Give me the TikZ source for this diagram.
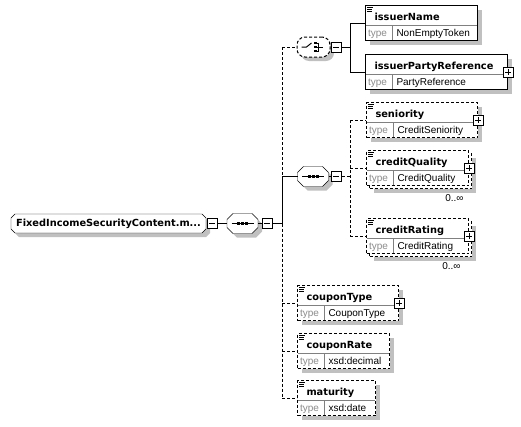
\documentclass[tikz,border=0pt]{standalone}
\usepackage{fontspec}
\setmainfont{Liberation Sans}
\newfontfamily\headfont{DejaVu Sans}
\usetikzlibrary{shadows,calc,backgrounds}

\definecolor{shadegray}{RGB}{192,192,192}
\definecolor{typegray}{RGB}{140,140,140}
\definecolor{rulegray}{RGB}{128,128,128}

\begin{document}
\begin{tikzpicture}[
            x = 1pt, y = -1pt, % one unit per pixel, rows counted downwards
            line width = 1pt, % thin lines
            opt/.style = {dash pattern=on 3pt off 2pt}, % optional particle
            plain/.style = {},
            shadowed/.style = {drop shadow={shadow xshift=4pt, shadow yshift=-4pt, fill=shadegray, opacity=1}},
            shadefill/.style = {fill=shadegray},
            octfill/.style = {draw, fill=white},
            elembox/.style = {draw, fill=white, minimum height=35pt, inner sep=0pt},
            titletext/.style = {anchor=base west, inner sep=0pt, font=\headfont\bfseries\fontsize{9.8}{12}\selectfont},
            typetext/.style = {anchor=base west, inner sep=0pt, font=\fontsize{10}{12}\selectfont},
            rootbox/.style = {minimum width=195pt, minimum height=19pt, inner sep=0pt, outer sep=0pt,
                              font=\headfont\bfseries\fontsize{9.8}{12}\selectfont},
            seqbox/.style = {minimum width=31pt, minimum height=20pt, inner sep=0pt, outer sep=0pt},
            choicebox/.style = {rectangle, rounded corners=8pt, draw, opt, fill=white, shadowed,
                                minimum width=33pt, minimum height=20pt, inner sep=0pt},
            minusbox/.style = {draw, fill=white, minimum size=10pt, inner sep=0pt,
                               path picture={\draw ([xshift=2pt]path picture bounding box.west) -- ([xshift=-2pt]path picture bounding box.east);}},
            plusbox/.style = {draw, fill=white, minimum size=10pt, inner sep=0pt,
                              path picture={\draw ([xshift=2pt]path picture bounding box.west) -- ([xshift=-2pt]path picture bounding box.east)
                                                  ([yshift=-2pt]path picture bounding box.north) -- ([yshift=2pt]path picture bounding box.south);}},
            many/.style = {anchor=north east, inner sep=0pt, font=\fontsize{10}{12}\selectfont}
        ]
\useasboundingbox (0,0) rectangle (521,426);

% compositors
\node[rootbox] (root) at (108.5,223.5) {FixedIncomeSecurityContent.m...};
\node[minusbox] (rootmin) at (212,223.5) {};
\node[seqbox] (mainseq) at (242.5,223.5) {};
\node[minusbox] (mainseqmin) at (267,223.5) {};
\node[choicebox] (issuer) at (313.5,47) {};
\node[minusbox] (issuermin) at (336,47) {};
\node[seqbox] (creditseq) at (313,176.5) {};
\node[minusbox] (creditseqmin) at (336,176.5) {};

% octagon outlines behind the compositor nodes
\begin{scope}[on background layer]
\foreach \nm/\c in {root/4,mainseq/6,creditseq/6}
  \foreach \o/\sty in {4/shadefill,0/octfill}
    \path[\sty] ($(\nm.north west)+(\c+\o,\o)$) -- ($(\nm.north east)+(-\c+\o,\o)$)
          -- ($(\nm.north east)+(\o,\c+\o)$) -- ($(\nm.south east)+(\o,-\c+\o)$)
          -- ($(\nm.south east)+(-\c+\o,\o)$) -- ($(\nm.south west)+(\c+\o,\o)$)
          -- ($(\nm.south west)+(\o,-\c+\o)$) -- ($(\nm.north west)+(\o,\c+\o)$) -- cycle;
\end{scope}

\coordinate (mainbus) at (282,223.5);
\coordinate (issuerbus) at (350,47);
\coordinate (creditbus) at (350,176.5);

% stacked boxes of the repeated elements
\node[elembox,opt,shadowed,minimum width=102pt,anchor=north west] (creditQualityback) at (369,153) {};
\node[elembox,opt,shadowed,minimum width=102pt,anchor=north west] (creditRatingback) at (369,221) {};

% elements
\foreach \nm/\lx/\ty/\bw/\typ/\ln/\sh in {
        issuerName/365/5/112/NonEmptyToken/solid/shadowed,
        issuerPartyReference/365/54/142/PartyReference/solid/shadowed,
        seniority/366/102/111/CreditSeniority/opt/shadowed,
        creditQuality/366/150/102/CreditQuality/opt/plain,
        creditRating/366/218/102/CreditRating/opt/plain,
        couponType/297/285/101/CouponType/opt/shadowed,
        couponRate/297/333/92/xsd:decimal/opt/shadowed,
        maturity/297/380/78/xsd:date/opt/shadowed}
{
  \node[elembox,\ln,\sh,minimum width=\bw pt,anchor=north west] (\nm) at (\lx,\ty) {};
  \draw[rulegray] (\lx+1,\ty+20) -- (\lx+\bw-0.5,\ty+20) (\lx+27,\ty+20) -- (\lx+27,\ty+34.5);
  \node[titletext] at (\lx+9,\ty+15) {\nm};
  \node[typetext,typegray] at (\lx+2.5,\ty+31) {type};
  \node[typetext] at (\lx+31,\ty+31) {\typ};
}

\foreach \nm in {issuerName,seniority,creditQuality,creditRating,couponType,couponRate,maturity}
  \draw[line width=0.7pt] ($(\nm.north west)+(2,2.5)$) -- +(6,0) ++(0,2) -- +(5,0) ++(0,2) -- +(5,0);

\foreach \nm in {issuerPartyReference,seniority,creditQuality,creditRating,couponType}
  \node[plusbox] at (\nm.east) {};

\node[many] at ($(creditQualityback.south east)+(-8,5)$) {0..∞};
\node[many] at ($(creditRatingback.south east)+(-11,5)$) {0..∞};

% compositor icons
\foreach \nm in {mainseq,creditseq} {
  \draw ($(\nm)+(-11,0)$) -- ($(\nm)+(11,0)$);
  \foreach \dx in {-4,0,4}
    \fill ($(\nm)+(\dx-1.5,-1.5)$) rectangle +(3,3);
}
\draw ($(issuer)+(-12,0)$) -- ($(issuer)+(-7,0)$) -- ($(issuer)+(-2,-4)$);
\foreach \dy in {-4,0,4} {
  \fill ($(issuer)+(0.5,\dy-1.25)$) rectangle +(2.5,2.5);
  \draw ($(issuer)+(3,\dy)$) -- ($(issuer)+(5,\dy)$);
}
\draw ($(issuer)+(5,-4.5)$) -- ($(issuer)+(5,4.5)$) ($(issuer)+(5,0)$) -- ($(issuer)+(9,0)$);

% connectors
\path (rootmin) edge (mainseq)
      (mainseq) edge (mainseqmin)
      (mainseqmin) edge (mainbus);
\draw[opt] (issuer.west -| mainbus) -- (creditseq.west -| mainbus);
\draw (creditseq.west -| mainbus) -- (mainbus);
\draw[opt] (mainbus) -- (maturity.west -| mainbus);
\draw[opt] (issuer.west -| mainbus) -- (issuer);
\draw (creditseq.west -| mainbus) -- (creditseq);
\foreach \nm in {couponType,couponRate,maturity}
  \draw[opt] (\nm.west -| mainbus) -- (\nm);

\path (issuer) edge (issuermin)
      (issuermin) edge (issuerbus);
\draw (issuerName.west -| issuerbus) -- (issuerPartyReference.west -| issuerbus);
\foreach \nm in {issuerName,issuerPartyReference}
  \draw (\nm.west -| issuerbus) -- (\nm);

\path (creditseq) edge (creditseqmin);
\draw[opt] (creditseqmin) -- (creditbus);
\draw[opt] (seniority.west -| creditbus) -- (creditRating.west -| creditbus);
\foreach \nm in {seniority,creditQuality,creditRating}
  \draw[opt] (\nm.west -| creditbus) -- (\nm);

\end{tikzpicture}
\end{document}
